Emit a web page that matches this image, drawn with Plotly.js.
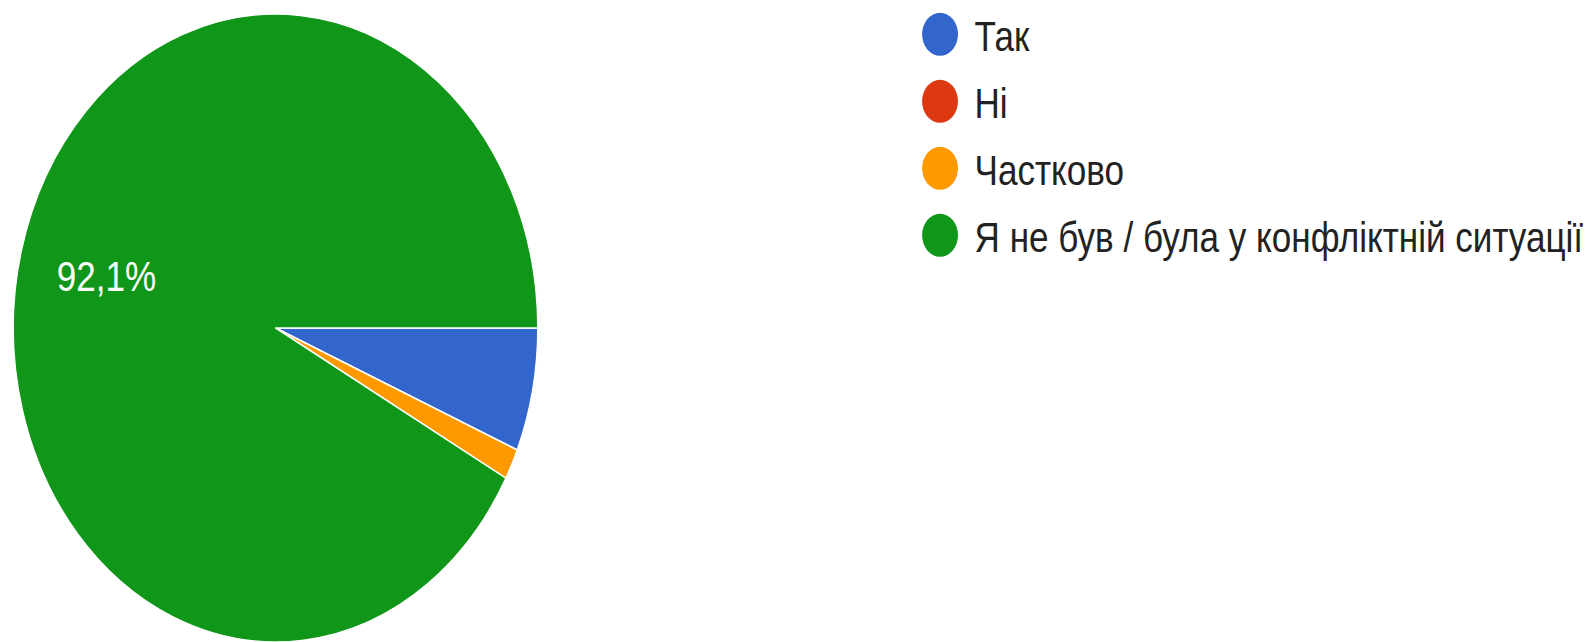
<!DOCTYPE html>
<html>
<head>
<meta charset="utf-8">
<script src="https://cdn.plot.ly/plotly-3.0.1.min.js"></script>
<style>
  html, body { margin: 0; padding: 0; background: #fff; overflow: hidden; }
  #wrap { width: 1590px; height: 642px; overflow: hidden; position: relative; }
  #chart { width: 1904px; height: 642px; transform: scaleX(0.83508); transform-origin: 0 0; }
</style>
</head>
<body>
<div id="wrap"><div id="chart"></div></div>
<script>
// Data
const labels = ['Так', 'Ні', 'Частково', 'Я не був / була у конфліктній ситуації'];
const counts = [4, 0, 1, 58];
const colors = ['#3366cc', '#dc3912', '#ff9900', '#109618'];

const total = counts.reduce((a, b) => a + b, 0);
const pctText = counts.map(v => {
  const p = v / total * 100;
  return p >= 10 ? p.toFixed(1).replace('.', ',') + '%' : '';
});

const W = 1904, H = 642;
const FONT = 'Liberation Sans, Arial, sans-serif';
const domX = [0.0084, 0.3382], domY = [0, 0.9782];

const pie = {
  type: 'pie',
  labels: labels,
  values: counts,
  textinfo: 'none',
  sort: false,
  direction: 'clockwise',
  rotation: 90,
  marker: { colors: colors, line: { color: '#ffffff', width: 1.5 } },
  domain: { x: domX, y: domY },
  showlegend: false,
  hoverinfo: 'label+percent'
};

const shapes = [];
const annotations = [];

// Percentage labels placed inside slices (Google-style position)
const cxPx = (domX[0] + domX[1]) / 2 * W;
const cyPx = (1 - (domY[0] + domY[1]) / 2) * H;
const rPx = Math.min((domX[1] - domX[0]) * W, (domY[1] - domY[0]) * H) / 2;
let cum = 0;
counts.forEach((v, i) => {
  const mid = (cum + v / 2) / total;
  cum += v;
  if (!pctText[i]) return;
  const ang = mid * 2 * Math.PI; // clockwise from 3 o'clock
  const x = cxPx + 0.667 * rPx * Math.cos(ang);
  const y = cyPx + 0.667 * rPx * Math.sin(ang);
  annotations.push({
    xref: 'paper', yref: 'paper', x: x / W, y: 1 - y / H,
    xanchor: 'center', yanchor: 'middle', showarrow: false,
    text: pctText[i],
    font: { family: FONT, size: 42, color: '#ffffff' }
  });
});

// Legend drawn as circles + text in paper coordinates
const legX = 1125.7, legR = 21.5, legTextX = 1165, legY0 = 34.3, legStep = 67;
labels.forEach((lab, i) => {
  const cy = legY0 + i * legStep;
  shapes.push({
    type: 'circle', xref: 'paper', yref: 'paper',
    x0: (legX - legR) / W, x1: (legX + legR) / W,
    y0: 1 - (cy + legR) / H, y1: 1 - (cy - legR) / H,
    fillcolor: colors[i], line: { width: 0 }
  });
  annotations.push({
    xref: 'paper', yref: 'paper',
    x: legTextX / W, y: 1 - (cy + 2) / H,
    xanchor: 'left', yanchor: 'middle',
    text: lab, showarrow: false,
    font: { family: FONT, size: 42, color: '#222222' }
  });
});

const layout = {
  width: W, height: H,
  margin: { l: 0, r: 0, t: 0, b: 0, pad: 0 },
  paper_bgcolor: '#ffffff',
  plot_bgcolor: '#ffffff',
  showlegend: false,
  shapes: shapes,
  annotations: annotations
};

Plotly.newPlot('chart', [pie], layout, { displayModeBar: false, responsive: false });
</script>
</body>
</html>
